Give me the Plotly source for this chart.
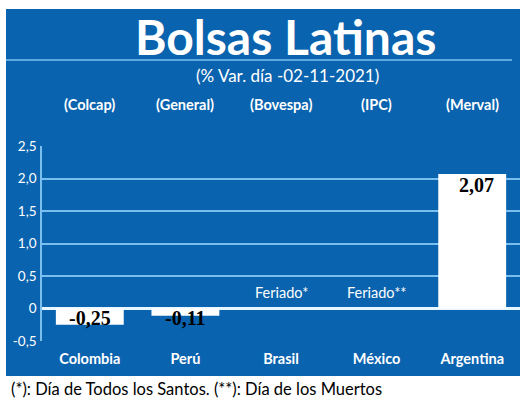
import plotly.graph_objects as go

countries = ["Colombia", "Perú", "Brasil", "México", "Argentina"]
indices = ["(Colcap)", "(General)", "(Bovespa)", "(IPC)", "(Merval)"]
values = [-0.25, -0.11, None, None, 2.07]
value_labels = ["-0,25", "-0,11", "", "", "2,07"]
holiday_labels = ["", "", "Feriado*", "Feriado**", ""]
tick_vals = [-0.5, 0, 0.5, 1.0, 1.5, 2.0, 2.5]
tick_text = ["-0,5", "0", "0,5", "1,0", "1,5", "2,0", "2,5"]

W, H = 520, 402
L, R, T, B = 42, 0, 146, 61
PW, PH = W - L - R, H - T - B

def px(x):
    return (x - L) / PW

def py(y):
    return (H - B - y) / PH

BLUE = "#0a63ae"
GRID = "#7bbfee"
COND = "Lato, sans-serif"
HUM = "Lato, sans-serif"
SERIF = "Liberation Serif, serif"

fig = go.Figure()
fig.add_trace(go.Bar(x=countries, y=values, marker=dict(color="white", line=dict(width=0)),
                     width=0.71, hoverinfo="skip"))

shapes = [
    dict(type="rect", xref="paper", yref="paper", x0=px(6), x1=px(520), y0=py(376), y1=py(9),
         fillcolor=BLUE, line=dict(width=0), layer="below"),
    dict(type="line", xref="paper", yref="paper", x0=px(6), x1=px(512), y0=py(60), y1=py(60),
         line=dict(color=GRID, width=1.5)),
]

def pann(text, x, y, size, color, family, xanchor="center"):
    return dict(text=text, x=px(x), y=py(y), xref="paper", yref="paper",
                xanchor=xanchor, yanchor="middle", showarrow=False,
                font=dict(family=family, size=size, color=color))

ann = [
    pann("<b>Bolsas Latinas</b>", 285, 36, 48, "white", COND),
    pann("(% Var. día -02-11-2021)", 287, 76, 17, "white", HUM),
    pann("(*): Día de Todos los Santos. (**): Día de los Muertos", 9, 389, 16.5, "black", HUM,
         xanchor="left"),
]
for c, idx in zip(countries, indices):
    ann.append(dict(text="<b>%s</b>" % idx, x=c, y=py(104), xref="x", yref="paper",
                    xanchor="center", yanchor="middle", showarrow=False,
                    font=dict(family=COND, size=14.5, color="white")))
for c, v, lab in zip(countries, values, value_labels):
    if v is None:
        continue
    if v < 0:
        ann.append(dict(text="<b>%s</b>" % lab, x=c, y=0, xref="x", yref="y", yanchor="top",
                        xanchor="center", yshift=4, showarrow=False,
                        font=dict(family=SERIF, size=20, color="black")))
    else:
        ann.append(dict(text="<b>%s</b>" % lab, x=c, y=v, xref="x", yref="y", yanchor="top",
                        xanchor="center", xshift=4, yshift=2, showarrow=False,
                        font=dict(family=SERIF, size=20, color="black")))
for c, lab in zip(countries, holiday_labels):
    if lab:
        ann.append(dict(text=lab, x=c, y=0, xref="x", yref="y", yanchor="bottom",
                        xanchor="center", yshift=6, showarrow=False,
                        font=dict(family=HUM, size=14.5, color="white")))

fig.update_layout(
    width=W, height=H, margin=dict(l=L, r=R, t=T, b=B),
    paper_bgcolor="white", plot_bgcolor="rgba(0,0,0,0)",
    showlegend=False, shapes=shapes, annotations=ann, bargap=0.29,
    xaxis=dict(showgrid=False, showline=False, zeroline=False,
               tickvals=countries, ticktext=["<b>%s</b>" % c for c in countries],
               tickfont=dict(family=COND, size=14.5, color="white"), ticklabelstandoff=7),
    yaxis=dict(range=[-0.5, 2.5], tickvals=tick_vals, ticktext=tick_text,
               showgrid=True, gridcolor=GRID, gridwidth=1.5,
               zeroline=True, zerolinecolor="#e8f6ff", zerolinewidth=3,
               showline=True, linecolor=GRID, linewidth=1.5,
               tickfont=dict(family=HUM, size=13.5, color="white"), ticklabelstandoff=1),
)

fig.write_html("out.html")
